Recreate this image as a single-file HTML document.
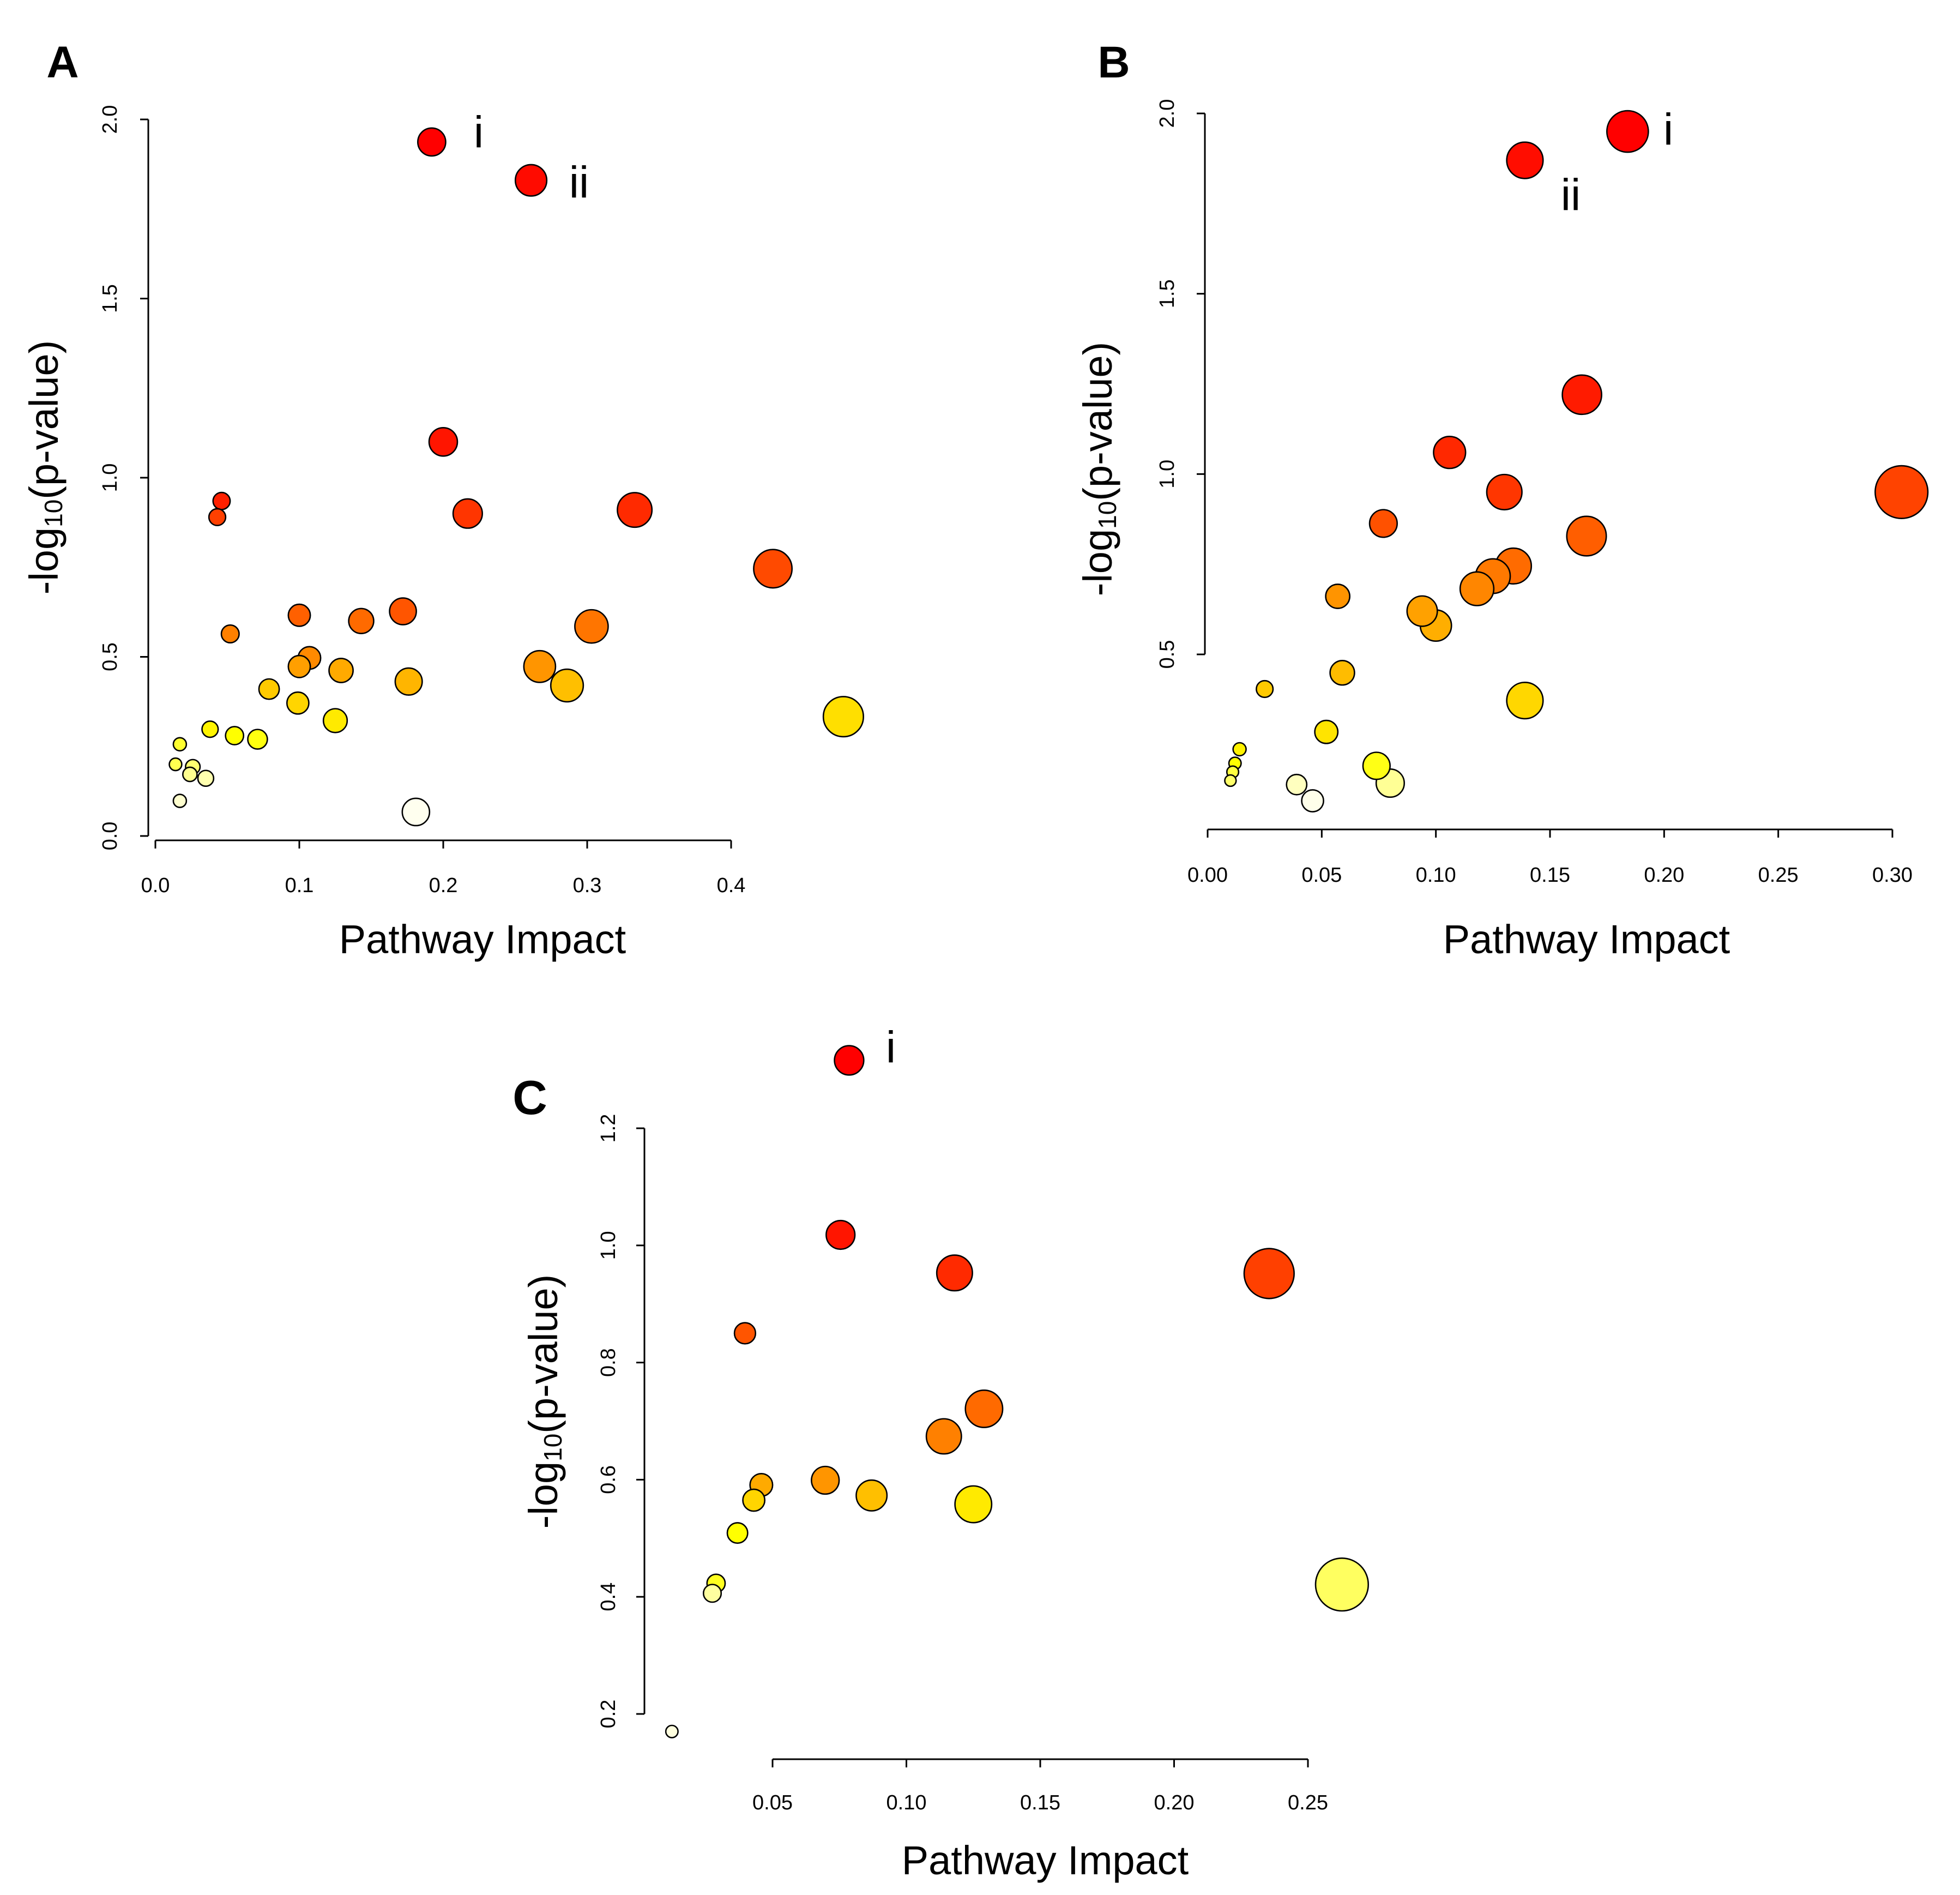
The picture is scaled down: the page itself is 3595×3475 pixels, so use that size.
<!DOCTYPE html>
<html>
<head>
<meta charset="utf-8">
<style>
html,body{margin:0;padding:0;background:#fff;}
svg{display:block;font-family:"Liberation Sans",Arial,sans-serif;}
</style>
</head>
<body>
<svg id="fig" width="3595" height="3475" viewBox="0 0 3595 3475" xmlns="http://www.w3.org/2000/svg">
<rect x="0" y="0" width="3595" height="3475" fill="#fff"/>
</svg>
<script>
// ---- Panel A data ----
const aImpact = [0.192,0.261,0.200,0.217,0.333,0.429,0.046,0.043,0.052,0.100,0.143,0.172,0.303,0.267,0.286,0.478,0.107,0.100,0.129,0.176,0.079,0.099,0.125,0.038,0.055,0.071,0.017,0.014,0.026,0.024,0.035,0.017,0.181];
const aLogP   = [1.937,1.830,1.100,0.900,0.910,0.746,0.935,0.890,0.564,0.616,0.600,0.627,0.585,0.473,0.420,0.333,0.497,0.473,0.462,0.431,0.410,0.371,0.322,0.298,0.280,0.270,0.256,0.200,0.193,0.172,0.161,0.098,0.067];
const aXTicks = [0.0,0.1,0.2,0.3,0.4];
const aXTickLabels = ["0.0","0.1","0.2","0.3","0.4"];
const aYTicks = [0.0,0.5,1.0,1.5,2.0];
const aYTickLabels = ["0.0","0.5","1.0","1.5","2.0"];
// ---- Panel B data ----
const bImpact = [0.184,0.139,0.164,0.106,0.130,0.304,0.077,0.166,0.134,0.125,0.118,0.057,0.094,0.100,0.059,0.025,0.139,0.052,0.074,0.080,0.014,0.012,0.011,0.010,0.039,0.046];
const bLogP   = [1.950,1.870,1.220,1.060,0.950,0.950,0.863,0.828,0.745,0.717,0.682,0.661,0.620,0.580,0.449,0.404,0.372,0.285,0.191,0.143,0.237,0.198,0.174,0.150,0.139,0.094];
const bXTicks = [0.00,0.05,0.10,0.15,0.20,0.25,0.30];
const bXTickLabels = ["0.00","0.05","0.10","0.15","0.20","0.25","0.30"];
const bYTicks = [0.5,1.0,1.5,2.0];
const bYTickLabels = ["0.5","1.0","1.5","2.0"];
// ---- Panel C data ----
const cImpact = [0.0786,0.0754,0.118,0.2355,0.0397,0.129,0.114,0.0697,0.0458,0.087,0.043,0.125,0.0369,0.2627,0.0289,0.0275,0.0124];
const cLogP   = [1.316,1.018,0.953,0.952,0.850,0.721,0.674,0.599,0.591,0.573,0.565,0.558,0.509,0.421,0.423,0.406,0.170];
const cXTicks = [0.05,0.10,0.15,0.20,0.25];
const cXTickLabels = ["0.05","0.10","0.15","0.20","0.25"];
const cYTicks = [0.2,0.4,0.6,0.8,1.0,1.2];
const cYTickLabels = ["0.2","0.4","0.6","0.8","1.0","1.2"];

const NS = "http://www.w3.org/2000/svg";
const svg = document.getElementById('fig');
function mk(tag, attrs, parent){
  const e = document.createElementNS(NS, tag);
  for (const k in attrs) e.setAttribute(k, attrs[k]);
  (parent||svg).appendChild(e);
  return e;
}
function hsv2rgb(h,s,v){
  const i=Math.floor(h*6), f=h*6-i, p=v*(1-s), q=v*(1-f*s), t=v*(1-(1-f)*s);
  let r,g,b;
  switch(((i%6)+6)%6){case 0:r=v;g=t;b=p;break;case 1:r=q;g=v;b=p;break;case 2:r=p;g=v;b=t;break;case 3:r=p;g=q;b=v;break;case 4:r=t;g=p;b=v;break;default:r=v;g=p;b=q;}
  return 'rgb('+Math.round(r*255)+','+Math.round(g*255)+','+Math.round(b*255)+')';
}
function heatColors(n){
  const j=Math.floor(n/4), i=n-j, out=[];
  for(let k=0;k<i;k++){ out.push(hsv2rgb(i>1? (k/(i-1))/6 : 0,1,1)); }
  for(let k=0;k<j;k++){
    const from=1-1/(2*j), to=1/(2*j);
    const s = j>1 ? from+(to-from)*k/(j-1) : from;
    out.push(hsv2rgb(1/6,s,1));
  }
  return out;
}

function drawPanel(p){
  const g = mk('g',{});
  
  
  const sx = v => p.x0 + (v - p.xv0) * (p.x1 - p.x0) / (p.xv1 - p.xv0);
  const sy = v => p.y0 + (v - p.yv0) * (p.y1 - p.y0) / (p.yv1 - p.yv0);
  const ya = mk('line',{x1:p.yAxisX, x2:p.yAxisX, y1:sy(p.yTicks[0]), y2:sy(p.yTicks[p.yTicks.length-1]), stroke:'#000','stroke-width':3},g);
  
  
  p.yTicks.forEach((t,k)=>{
    const tk = mk('line',{x1:p.yAxisX-15,x2:p.yAxisX,y1:sy(t),y2:sy(t),stroke:'#000','stroke-width':3},g);
    
    
    const tl = mk('text',{x:0,y:0,transform:'translate('+p.yLabX+','+sy(t)+') rotate(-90)','text-anchor':'middle','dominant-baseline':'central','font-size':38,fill:'#000'},g);
    tl.textContent = p.yTickLabels[k];
    
    
  });
  const xa = mk('line',{x1:sx(p.xTicks[0]), x2:sx(p.xTicks[p.xTicks.length-1]), y1:p.xAxisY, y2:p.xAxisY, stroke:'#000','stroke-width':3},g);
  
  
  p.xTicks.forEach((t,k)=>{
    const tk = mk('line',{x1:sx(t),x2:sx(t),y1:p.xAxisY,y2:p.xAxisY+15,stroke:'#000','stroke-width':3},g);
    
    
    const tl = mk('text',{x:sx(t),y:p.xLabY,'text-anchor':'middle','font-size':38,fill:'#000'},g);
    tl.textContent = p.xTickLabels[k];
    
    
  });
  const xt = mk('text',{x:p.xTitleX,y:p.xTitleY,'text-anchor':'middle','font-size':74,fill:'#000'},g);
  xt.textContent = 'Pathway Impact';
  
  
  const yt = mk('text',{x:0,y:0,transform:'translate('+p.yTitleX+','+p.yTitleY+') rotate(-90)','text-anchor':'middle','dominant-baseline':'central','font-size':74,fill:'#000'},g);
  
  
  const t1 = mk('tspan',{},yt); t1.textContent='-log';
  const t2 = mk('tspan',{'font-size':46,dy:18},yt); t2.textContent='10';
  const t3 = mk('tspan',{dy:-18},yt); t3.textContent='(p-value)';
  const pl = mk('text',{x:p.letterX,y:p.letterY,'text-anchor':'middle','font-size':p.letterSize,'font-weight':'bold',fill:'#000'},g);
  pl.textContent = p.letter;
  
  
  const n = p.xs.length;
  const order = p.ys.map((v,i)=>i).sort((a,b)=>p.ys[b]-p.ys[a]);
  const cols = heatColors(n);
  const colOf = new Array(n);
  order.forEach((idx,rank)=>{ colOf[idx]=cols[rank]; });
  const drawOrder = p.xs.map((v,i)=>i).sort((a,b)=>p.xs[b]-p.xs[a]);
  drawOrder.forEach(i=>{
    const r = p.ra + p.rb*Math.sqrt(p.xs[i]);
    const c = mk('circle',{cx:sx(p.xs[i]),cy:sy(p.ys[i]),r:r,fill:colOf[i],stroke:'#000','stroke-width':2.6},g);
    
    
  });
  p.notes.forEach(nt=>{
    const t = mk('text',{x:nt[0],y:nt[1],'text-anchor':'middle','font-size':82,fill:'#000'},g);
    t.textContent = nt[2];
    
    
  });
}

drawPanel({name:'panel-a', letter:'A', letterX:115, letterY:142, letterSize:82,
  xs:aImpact, ys:aLogP, xTicks:aXTicks, xTickLabels:aXTickLabels, yTicks:aYTicks, yTickLabels:aYTickLabels,
  x0:285, x1:1341, xv0:0, xv1:0.4, y0:1533, y1:219, yv0:0, yv1:2.0,
  yAxisX:272, xAxisY:1541, yLabX:202, xLabY:1636, xTitleX:885, xTitleY:1748, yTitleX:80, yTitleY:857,
  ra:6.2, rb:44.2, notes:[[878,270,'i'],[1062,362,'ii']]});

drawPanel({name:'panel-b', letter:'B', letterX:2043, letterY:142, letterSize:82,
  xs:bImpact, ys:bLogP, xTicks:bXTicks, xTickLabels:bXTickLabels, yTicks:bYTicks, yTickLabels:bYTickLabels,
  x0:2215, x1:3471, xv0:0, xv1:0.30, y0:1200, y1:208, yv0:0.5, yv1:2.0,
  yAxisX:2210, xAxisY:1521, yLabX:2141, xLabY:1617, xTitleX:2910, xTitleY:1748, yTitleX:2013, yTitleY:860,
  ra:2, rb:84, notes:[[3060,265,'i'],[2881,385,'ii']]});

drawPanel({name:'panel-c', letter:'C', letterX:972, letterY:2043, letterSize:88,
  xs:cImpact, ys:cLogP, xTicks:cXTicks, xTickLabels:cXTickLabels, yTicks:cYTicks, yTickLabels:cYTickLabels,
  x0:1417, x1:2399, xv0:0.05, xv1:0.25, y0:3143, y1:2069, yv0:0.2, yv1:1.2,
  yAxisX:1182, xAxisY:3226, yLabX:1116, xLabY:3318, xTitleX:1917, xTitleY:3437, yTitleX:996, yTitleY:2570,
  ra:0.9, rb:92.6, notes:[[1634,1948,'i']]});
</script>
</body>
</html>
